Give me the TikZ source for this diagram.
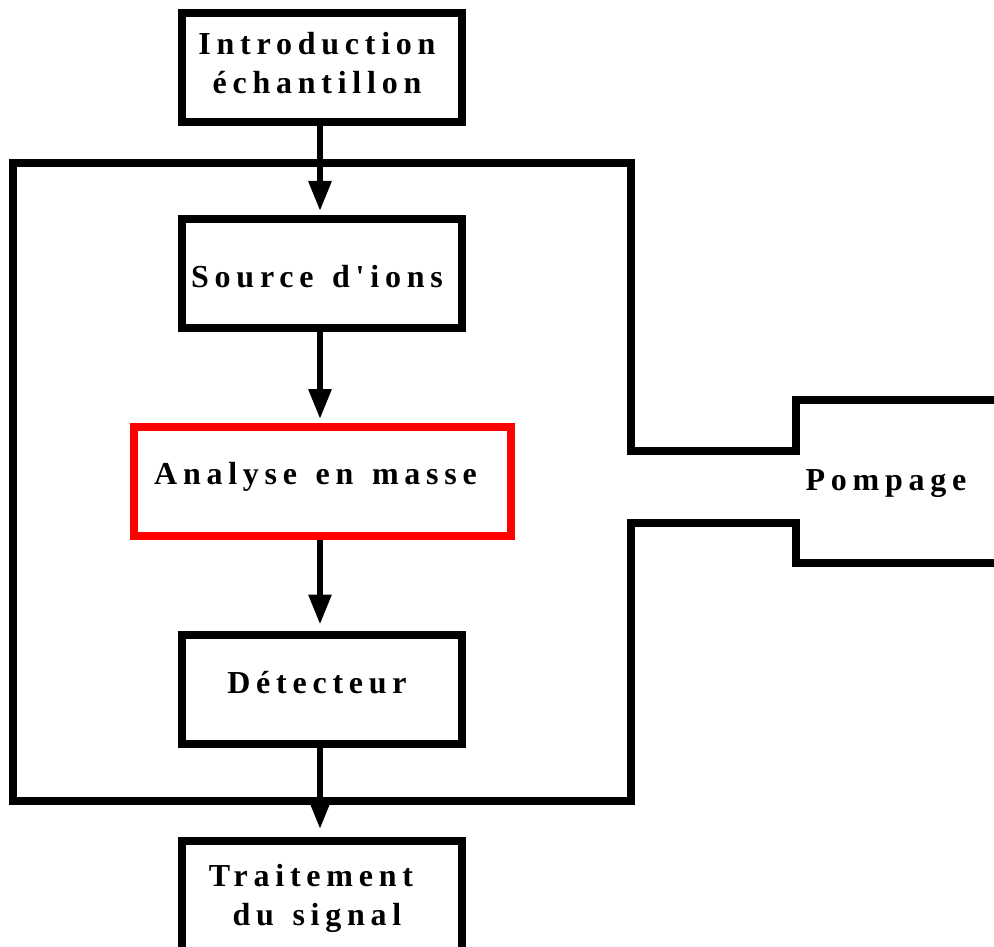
\documentclass[tikz,border=0pt]{standalone}
\usepackage{fontspec}
\newfontfamily\lblfont[LetterSpace=18,WordSpace=1.35]{Liberation Serif}
\usetikzlibrary{arrows.meta}
\newcommand{\lead}{\hspace*{-10pt}}
\tikzset{
  lbl/.style={font=\lblfont\bfseries\fontsize{32pt}{39pt}\selectfont, align=center, inner sep=0pt},
  stagebox/.style={lbl, draw=black, line width=8pt, minimum width=280pt, minimum height=109pt},
  redbox/.style={lbl, draw=red, line width=8pt, minimum width=377pt, minimum height=109pt},
  chamber/.style={draw=black, line width=8pt, line join=miter},
  arr/.style={draw=black, line width=6pt, -{Triangle[width=22pt,length=30pt]}}
}
\begin{document}
\begin{tikzpicture}[x=1pt,y=-1pt]
\useasboundingbox (0,0) rectangle (994,947);
\fill[white] (0,0) rectangle (994,947);
% vacuum chamber with pumping port
\draw[chamber] (1010,563) -- (796,563) -- (796,523) -- (631,523) -- (631,801)
  -- (13,801) -- (13,163) -- (631,163) -- (631,451) -- (796,451) -- (796,400) -- (1010,400);
\node[lbl] (pompage) at (891,484) {\lead Pompage};
% stages
\node[stagebox] (intro) at (322,67.5) {\lead Introduction\\\lead échantillon\rule[-10pt]{0pt}{1pt}};
\node[stagebox, text height=27pt, text depth=0pt] (source) at (322,273.5) {\lead Source d'ions};
\node[redbox, text height=21pt, text depth=15pt] (analyse) at (322.5,481.5) {\hspace*{-14pt}Analyse en masse};
\node[stagebox, text height=21pt, text depth=12pt] (detect) at (322,689) {\lead Détecteur};
\node[stagebox, minimum height=115pt] (traite) at (322,898.5) {\hspace*{-22pt}Traitement\\\lead du signal};
% connectors
\draw[arr, shorten >=4pt] ([xshift=-2pt]intro.south) -- ([xshift=-2pt]source.north);
\draw[arr, shorten >=4pt] ([xshift=-2pt]source.south) -- ([xshift=-2.5pt]analyse.north);
\draw[arr, shorten >=6pt] ([xshift=-2.5pt]analyse.south) -- ([xshift=-2pt]detect.north);
\draw[arr, shorten >=8pt] ([xshift=-2pt]detect.south) -- ([xshift=-2pt]traite.north);
\end{tikzpicture}
\end{document}
